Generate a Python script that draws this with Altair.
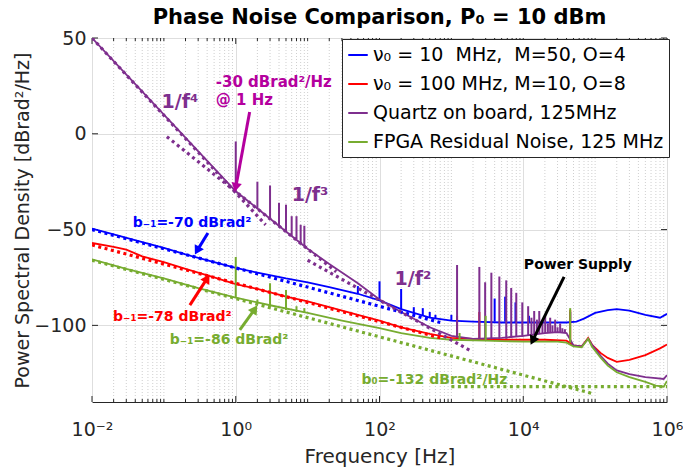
import altair as alt
import pandas as pd

FONT = "DejaVu Sans"
X_DOMAIN = [1e-2, 1e6]
Y_DOMAIN = [-140, 50]
X_TICKS = [1e-2, 1, 1e2, 1e4, 1e6]
Y_TICKS = [-100, -50, 0, 50]

NB = "\u00a0"
S_BLUE = "ν₀ = 10" + NB + " MHz," + NB + " M=50, O=4"
S_RED = "ν₀ = 100 MHz, M=10, O=8"
S_PURPLE = "Quartz on board, 125MHz"
S_GREEN = "FPGA Residual Noise, 125 MHz"
SERIES = [S_BLUE, S_RED, S_PURPLE, S_GREEN]
COLORS = ["#0000FF", "#FF0000", "#7E2F8E", "#77AC30"]
MAGENTA = "#B4009E"

# ---- measured curves (frequency in Hz, PSD in dBrad^2/Hz) ----
blue_f = [0.01, 0.02, 0.05, 0.1, 0.2, 0.5, 1, 2, 5, 10, 20, 50, 100, 200, 500, 1000, 2000, 5000,
          1e4, 2e4, 4e4, 5.5e4, 7e4, 1e5, 1.5e5, 2e5, 3e5, 5e5, 8e5, 1e6]
blue_v = [-49.5, -52.5, -56.5, -59.5, -63, -67, -70, -72.5, -75.5, -77.5, -80, -83.5, -87, -91.5, -96, -97.5, -98, -98.5,
          -98.5, -98.5, -98.5, -98, -96.5, -93.5, -92, -91.5, -92.3, -94.5, -96, -94]

red_f = [0.01, 0.02, 0.03, 0.05, 0.1, 0.2, 0.5, 1, 2, 5, 10, 20, 50, 100, 200, 500, 1000, 2000, 5000,
         1e4, 2e4, 4e4, 5e4, 6.5e4, 8e4, 9e4, 1.2e5, 1.5e5, 2e5, 3e5, 5e5, 8e5, 1e6]
red_v = [-57, -59, -60.5, -64, -67, -70.5, -75, -78.5, -81, -85, -87.5, -90.5, -94.5, -97.5, -101, -104.5, -106.5, -107, -107.5,
         -107.5, -107.5, -108, -110.5, -111, -106.5, -110, -114.5, -117, -119, -118, -115.5, -112, -110]

purple_f = [0.01, 0.1, 1, 2, 5, 10, 20, 50, 100, 200, 500, 1000, 2000, 5000, 1e4, 2e4, 3e4, 4e4,
            5e4, 6.5e4, 8e4, 9e4, 1.2e5, 1.5e5, 2e5, 3e5, 5e5, 7e5, 9e5, 1e6]
purple_v = [50, 10, -30, -39, -51, -60, -68, -78, -86.5, -93, -101, -105.5, -107, -106.5, -105.5, -104, -103.5, -104,
            -110.5, -111, -107, -110, -116, -120, -123.5, -125.5, -127, -127.5, -128, -126]

green_f = [0.01, 0.03, 0.1, 0.3, 1, 3, 10, 30, 100, 200, 500, 1000, 3000, 1e4, 3e4, 4e4, 5e4, 6.5e4,
           8e4, 9e4, 1.2e5, 1.5e5, 2e5, 3e5, 5e5, 7e5, 9e5, 1e6]
green_v = [-65.5, -70.5, -75.5, -80.5, -85.5, -89.5, -93.5, -97.5, -101.5, -104, -106.5, -107.5, -108, -108.5, -108.5, -109, -111, -111.5,
           -107, -111, -117, -121, -124.5, -127, -129.5, -131.5, -132, -129]

# ---- spurs: frequency, base level, peak level ----
purple_spk_f = [1, 2, 3, 4, 5, 6, 7, 8, 9, 1200, 2450, 2950, 3600, 4650, 5800, 6800, 8000, 9700,
                11700, 13000, 14200, 15500, 16700, 18500, 20200, 22000, 23700, 25500, 27800, 30000,
                32600, 35000, 38000]
purple_spk_base = [-30, -39, -44, -48, -51, -53.5, -55, -57, -58.5, -106, -107, -107, -107, -107, -107, -106.5, -106, -106,
                   -105.5, -105.5, -105, -105, -104.5, -104.5, -104, -104, -104, -104, -103.5, -103.5,
                   -103.5, -103.5, -104]
purple_spk_top = [-4, -25, -27, -36, -37, -43, -43, -47.5, -48, -68.5, -69.5, -77.5, -72.5, -74.5, -76.5, -80.5, -83, -88,
                  -90, -96, -92.5, -97, -92.5, -98, -94.5, -99, -96, -100, -97, -101,
                  -99, -101.5, -102]

blue_spk_f = [50, 100, 200, 300, 400, 500, 600, 1000, 4000, 5600, 7800, 12000, 45000]
blue_spk_base = [-83.5, -87, -91.5, -94, -95, -96, -96.5, -97.5, -98, -98, -98.5, -98.5, -98.5]
blue_spk_top = [-79.5, -77, -81, -90.5, -91, -93, -94.5, -94.5, -86, -85, -88, -95, -93]

red_spk_f = [1200, 2450, 45000]
red_spk_base = [-106.5, -107, -109]
red_spk_top = [-95, -93, -92]

green_spk_f = [1, 2, 3, 5, 7, 9, 1300, 3000, 45000]
green_spk_base = [-85.5, -88.5, -90, -92, -93, -93.5, -107.5, -108, -109]
green_spk_top = [-64.3, -86.5, -78, -81.5, -90, -91, -104, -95, -91]

# ---- dotted power-law fits: start / end points ----
fit_name = ["b-1 blue", "b-1 red", "b-1 green", "b0 green", "f4", "f3", "f2"]
fit_color = ["#0000FF", "#FF0000", "#77AC30", "#77AC30", "#7E2F8E", "#7E2F8E", "#7E2F8E"]
fit_f0 = [0.01, 0.01, 0.01, 1000, 0.01, 0.11, 10]
fit_v0 = [-50, -58, -66, -132, 50, -1.5, -66]
fit_f1 = [700, 700, 9e4, 1e6, 2.6, 25, 1900]
fit_v1 = [-98.5, -106.5, -135.5, -132, -47.5, -72, -113.5]

# ---- annotations ----
ann_text = ["1/f⁴", "-30 dBrad²/Hz", "@ 1 Hz", "1/f³", "1/f²", "b₋₁=-70 dBrad²", "b₋₁=-78 dBrad²",
            "b₋₁=-86 dBrad²", "b₀=-132 dBrad²/Hz", "Power Supply"]
ann_f = [0.093, 0.527, 0.527, 6, 162, 0.037, 0.0196, 0.121, 56, 10200]
ann_v = [16.6, 27, 17.5, -32, -76, -46.5, -95.5, -107.5, -128.5, -68.5]
ann_color = ["#7E2F8E", MAGENTA, MAGENTA, "#7E2F8E", "#7E2F8E", "#0000FF", "#FF0000", "#77AC30", "#77AC30", "#000000"]
ann_size = [19, 15, 15, 19, 19, 14, 14, 14, 14, 14]

arr_f0 = [1.56, 0.41, 0.23, 1.14, 37000]
arr_v0 = [11.4, -51.8, -89.4, -102.4, -74.7]
arr_f1 = [1.0, 0.29, 0.40, 1.84, 13500]
arr_v1 = [-28, -61, -75.5, -91.5, -108]
arr_color = [MAGENTA, "#0000FF", "#FF0000", "#77AC30", "#000000"]
arr_angle = [192, 209, 31, 34, 206]

minor_f = [k * 10.0 ** d for d in range(-2, 6) for k in range(2, 10)] + [0.1, 10, 1000, 1e5]

# ---------------- build chart ----------------
W, H = 575, 364
xs = alt.Scale(type="log", domain=X_DOMAIN, nice=False)
ys = alt.Scale(domain=Y_DOMAIN, nice=False, zero=False)

x_axis = alt.Axis(values=X_TICKS, title="Frequency [Hz]", grid=True, gridColor="#dedede",
                  labelExpr="datum.value < 0.05 ? '10⁻²' : datum.value < 5 ? '10⁰' : datum.value < 500 ? '10²' : datum.value < 50000 ? '10⁴' : '10⁶'",
                  labelFontSize=19, titleFontSize=20, labelPadding=18, titlePadding=7, ticks=False,
                  labelFlush=False, labelOverlap=False,
                  labelFont=FONT, titleFont=FONT, labelColor="#262626", titleColor="#262626",
                  titleFontWeight="normal", domain=False)
y_axis = alt.Axis(values=Y_TICKS, title="Power Spectral Density [dBrad²/Hz]", grid=True, gridColor="#dedede",
                  labelFontSize=19, titleFontSize=19, labelPadding=6, titlePadding=1, ticks=False,
                  labelFlush=False, labelOverlap=False,
                  labelFont=FONT, titleFont=FONT, labelColor="#262626", titleColor="#262626",
                  titleFontWeight="normal", domain=False)


def X(field):
    return alt.X(field, scale=xs, axis=x_axis)


def Y(field):
    return alt.Y(field, scale=ys, axis=y_axis)


legend = alt.Legend(orient="none", legendX=250, legendY=1, title=None, labelFont=FONT, labelFontSize=19,
                    labelColor="#000000", symbolType="stroke", symbolStrokeWidth=2, symbolSize=380,
                    labelOffset=4, rowPadding=8, padding=5, fillColor="white", strokeColor="#262626",
                    labelLimit=500, cornerRadius=0)
color_scale = alt.Scale(domain=SERIES, range=COLORS)

grid_df = pd.DataFrame({"f": minor_f, "lo": -140, "hi": 50})
layers = [alt.Chart(grid_df).mark_rule(strokeDash=[1, 2], color="#cfcfcf", strokeWidth=1).encode(
    x=X("f:Q"), y=Y("lo:Q"), y2="hi:Q")]

# inward tick marks on the box (MATLAB style)
minor_tick_df = pd.DataFrame({"f": minor_f})
major_tick_df = pd.DataFrame({"f": X_TICKS})
for df, ln in ((minor_tick_df, 3), (major_tick_df, 6)):
    layers.append(alt.Chart(df).mark_rule(color="#262626", strokeWidth=1).encode(
        x=X("f:Q"), y=alt.value(H), y2=alt.value(H - ln)))
    layers.append(alt.Chart(df).mark_rule(color="#262626", strokeWidth=1).encode(
        x=X("f:Q"), y=alt.value(0), y2=alt.value(ln)))

ytick_df = pd.DataFrame({"v": Y_TICKS})
layers.append(alt.Chart(ytick_df).mark_rule(color="#262626", strokeWidth=1).encode(
    y=Y("v:Q"), x=alt.value(0), x2=alt.value(6)))
layers.append(alt.Chart(ytick_df).mark_rule(color="#262626", strokeWidth=1).encode(
    y=Y("v:Q"), x=alt.value(W - 6), x2=alt.value(W)))

curves = [(S_BLUE, blue_f, blue_v, blue_spk_f, blue_spk_base, blue_spk_top, COLORS[0]),
          (S_RED, red_f, red_v, red_spk_f, red_spk_base, red_spk_top, COLORS[1]),
          (S_PURPLE, purple_f, purple_v, purple_spk_f, purple_spk_base, purple_spk_top, COLORS[2]),
          (S_GREEN, green_f, green_v, green_spk_f, green_spk_base, green_spk_top, COLORS[3])]

for name, f, v, sf, sb, st, col in curves:
    cdf = pd.DataFrame({"series": name, "f": f, "v": v, "i": list(range(len(f)))})
    layers.append(alt.Chart(cdf).mark_line(strokeWidth=1.8, clip=True).encode(
        x=X("f:Q"), y=Y("v:Q"), order="i:Q",
        color=alt.Color("series:N", scale=color_scale, legend=legend)))
    sdf = pd.DataFrame({"f": sf, "base": sb, "top": st})
    layers.append(alt.Chart(sdf).mark_rule(strokeWidth=2, color=col, clip=True).encode(
        x=X("f:Q"), y=Y("base:Q"), y2="top:Q"))

fit_rows = []
for n, c, f0, v0, f1, v1 in zip(fit_name, fit_color, fit_f0, fit_v0, fit_f1, fit_v1):
    fit_rows.append({"name": n, "col": c, "f": f0, "v": v0, "i": 0})
    fit_rows.append({"name": n, "col": c, "f": f1, "v": v1, "i": 1})
fit_df = pd.DataFrame(fit_rows)
layers.append(alt.Chart(fit_df).mark_line(strokeWidth=3.2, strokeDash=[3, 3.5], clip=True).encode(
    x=X("f:Q"), y=Y("v:Q"), detail="name:N", order="i:Q",
    color=alt.Color("col:N", scale=None)))

arr_df = pd.DataFrame({"f0": arr_f0, "v0": arr_v0, "f1": arr_f1, "v1": arr_v1, "col": arr_color, "ang": arr_angle})
layers.append(alt.Chart(arr_df).mark_rule(strokeWidth=3).encode(
    x=X("f0:Q"), x2="f1:Q", y=Y("v0:Q"), y2="v1:Q",
    color=alt.Color("col:N", scale=None)))
layers.append(alt.Chart(arr_df).mark_point(shape="triangle-up", filled=True, opacity=1, size=110).encode(
    x=X("f1:Q"), y=Y("v1:Q"),
    angle=alt.Angle("ang:Q", scale=None),
    color=alt.Color("col:N", scale=None)))

ann_df = pd.DataFrame({"f": ann_f, "v": ann_v, "t": ann_text, "col": ann_color, "fs": ann_size})
layers.append(alt.Chart(ann_df).mark_text(align="left", baseline="middle", font=FONT, fontWeight="bold").encode(
    x=X("f:Q"), y=Y("v:Q"), text="t:N",
    size=alt.Size("fs:Q", scale=None),
    color=alt.Color("col:N", scale=None)))

chart = alt.layer(*layers).properties(
    width=W, height=H,
    title=alt.Title("Phase Noise Comparison, P₀ = 10 dBm", font=FONT, fontSize=21, fontWeight="bold",
                    color="#000000", anchor="middle", offset=1),
    padding={"left": 92, "top": 38, "right": 16, "bottom": 67},
    autosize=alt.AutoSizeParams(type="none"),
).configure_view(stroke="#262626", strokeWidth=1)

chart.save("out.html", embed_options={"renderer": "svg", "actions": False})
